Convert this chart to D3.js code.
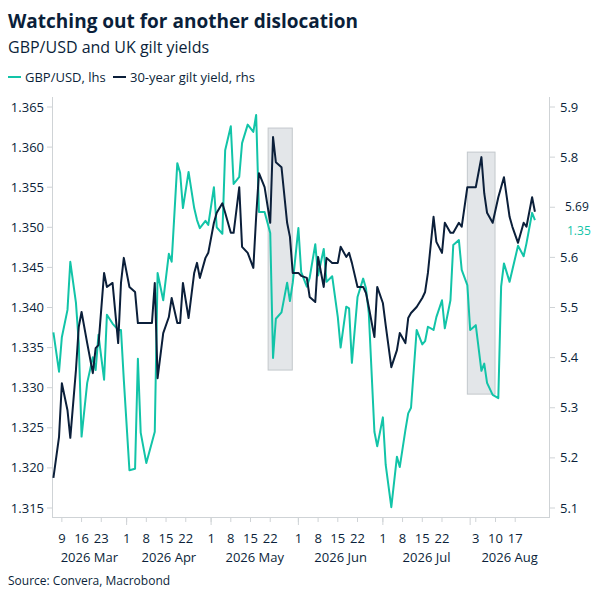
<!DOCTYPE html>
<html>
<head>
<meta charset="utf-8">
<script src="https://cdn.jsdelivr.net/npm/d3@7"></script>
<style>
  body { margin: 0; background: #fff; }
  text { font-family: "Segoe UI", "Open Sans", sans-serif; }
</style>
</head>
<body>
<script>
var dates = [
  '2026-03-06','2026-03-08','2026-03-09','2026-03-11','2026-03-12','2026-03-14','2026-03-15','2026-03-16','2026-03-18','2026-03-20',
  '2026-03-21','2026-03-22','2026-03-24','2026-03-25','2026-03-27','2026-03-29','2026-03-30','2026-03-31','2026-04-02','2026-04-04',
  '2026-04-05','2026-04-06','2026-04-08','2026-04-10','2026-04-11','2026-04-12','2026-04-14','2026-04-16','2026-04-17','2026-04-19',
  '2026-04-20','2026-04-21','2026-04-23','2026-04-25','2026-04-26','2026-04-27','2026-04-29','2026-04-30','2026-05-02','2026-05-03',
  '2026-05-05','2026-05-06','2026-05-08','2026-05-09','2026-05-11','2026-05-12','2026-05-14','2026-05-16','2026-05-17','2026-05-18',
  '2026-05-20','2026-05-22','2026-05-23','2026-05-24','2026-05-26','2026-05-28','2026-05-29','2026-05-30','2026-06-01','2026-06-02',
  '2026-06-04','2026-06-05','2026-06-07','2026-06-08','2026-06-10','2026-06-11','2026-06-13','2026-06-15','2026-06-16','2026-06-18',
  '2026-06-19','2026-06-20','2026-06-22','2026-06-24','2026-06-25','2026-06-26','2026-06-28','2026-06-29','2026-07-01','2026-07-02',
  '2026-07-04','2026-07-06','2026-07-07','2026-07-09','2026-07-10','2026-07-11','2026-07-13','2026-07-15','2026-07-16','2026-07-17',
  '2026-07-19','2026-07-20','2026-07-22','2026-07-23','2026-07-25','2026-07-26','2026-07-28','2026-07-29','2026-07-31','2026-08-01',
  '2026-08-03','2026-08-05','2026-08-06','2026-08-07','2026-08-09','2026-08-11','2026-08-12','2026-08-13','2026-08-15','2026-08-16',
  '2026-08-18','2026-08-20','2026-08-21','2026-08-23','2026-08-24'
];

// GBP/USD, left axis
var gbpusd = [
  1.3369,1.3320,1.3363,1.3397,1.3457,1.3406,1.3356,1.3239,1.3306,1.3338,
  1.3322,1.3366,1.3310,1.3391,1.3380,1.3372,1.3372,1.3310,1.3197,1.3199,
  1.3336,1.3244,1.3206,1.3232,1.3245,1.3443,1.3409,1.3467,1.3457,1.3580,
  1.3568,1.3524,1.3569,1.3524,1.3509,1.3499,1.3508,1.3503,1.3550,1.3500,
  1.3492,1.3596,1.3626,1.3554,1.3563,1.3605,1.3628,1.3619,1.3640,1.3519,
  1.3519,1.3493,1.3337,1.3386,1.3394,1.3431,1.3408,1.3431,1.3499,1.3444,
  1.3426,1.3437,1.3479,1.3440,
  1.3473,1.3432,1.3439,1.3388,1.3350,1.3401,1.3399,1.3331,1.3413,1.3436,
  1.3424,1.3393,1.3245,1.3227,1.3263,1.3204,1.3151,1.3214,1.3201,1.3247,
  1.3268,1.3275,1.3372,1.3354,1.3358,1.3376,1.3372,1.3388,1.3409,1.3374,
  1.3409,1.3478,1.3484,1.3447,1.3428,1.3372,1.3378,1.3321,1.3330,1.3306,
  1.3291,1.3287,1.3426,1.3455,1.3432,1.3447,1.3477,1.3464,1.3480,1.3518,1.3509
];

// 30-year gilt yield, right axis
var gilt30 = [
  5.160,5.242,5.349,5.295,5.240,5.375,5.461,5.491,5.429,5.369,
  5.419,5.425,5.569,5.541,5.549,5.429,5.549,5.599,5.541,5.531,
  5.469,5.469,5.469,5.469,5.549,5.359,5.449,5.481,5.519,5.469,
  5.469,5.549,5.479,5.569,5.589,5.559,5.599,5.609,5.669,5.689,
  5.708,5.689,5.649,5.649,5.740,5.621,5.609,5.579,5.681,5.768,
  5.740,5.669,5.840,5.790,5.780,5.669,5.641,5.569,5.569,5.563,
  5.559,5.521,5.511,5.601,
  5.541,5.599,5.589,5.589,5.621,5.601,5.609,5.589,5.541,5.541,
  5.529,5.501,5.441,5.541,5.509,5.465,5.381,5.415,5.449,5.429,
  5.479,5.489,5.501,5.519,5.531,5.569,5.681,5.631,5.609,5.669,
  5.649,5.649,5.669,5.661,5.740,5.740,5.740,5.800,5.728,5.689,
  5.669,5.720,5.740,5.760,5.681,5.661,5.629,5.669,5.661,5.720,5.691
];

var leftTicks = [1.315, 1.320, 1.325, 1.330, 1.335, 1.340, 1.345, 1.350, 1.355, 1.360, 1.365];
var rightTicks = [5.1, 5.2, 5.3, 5.4, 5.5, 5.6, 5.8, 5.9];
var weekTicks = ['2026-03-09','2026-03-16','2026-03-23','2026-04-01','2026-04-08','2026-04-15','2026-04-22',
  '2026-05-01','2026-05-08','2026-05-15','2026-05-22','2026-06-01','2026-06-08','2026-06-15','2026-06-22',
  '2026-07-01','2026-07-08','2026-07-15','2026-07-22','2026-08-03','2026-08-10','2026-08-17'];
var monthStarts = ['2026-04-01','2026-05-01','2026-06-01','2026-07-01','2026-08-01'];
var monthLabels = [
  { label: '2026 Mar', from: '2026-03-05T12:00', to: '2026-04-01' },
  { label: '2026 Apr', from: '2026-04-01', to: '2026-05-01' },
  { label: '2026 May', from: '2026-05-01', to: '2026-06-01' },
  { label: '2026 Jun', from: '2026-06-01', to: '2026-07-01' },
  { label: '2026 Jul', from: '2026-07-01', to: '2026-08-01' },
  { label: '2026 Aug', from: '2026-08-01', to: '2026-08-29' }
];
// shaded windows: [start, end, gilt top, gbp bottom]
var boxes = [
  ['2026-05-21T06:00', '2026-05-29T20:00', 5.858, 1.3322],
  ['2026-07-31', '2026-08-09T20:00', 5.810, 1.3292]
];

var navy = '#0b1f3a', teal = '#12c4a8', grey = '#cfd3d6';
var parse = d3.isoParse;

var svg = d3.select('body').append('svg').attr('width', 600).attr('height', 600);

var x = d3.scaleTime().domain([parse('2026-03-05T12:00'), parse('2026-08-29')]).range([52, 549]);
var yL = d3.scaleLinear().domain([1.315, 1.365]).range([508, 107]);
var yR = d3.scaleLinear().domain([5.1, 5.9]).range([508, 107]);

svg.append('text').attr('x', 8).attr('y', 28).attr('font-size', 19).attr('font-weight', 700)
  .attr('fill', navy).text('Watching out for another dislocation');
svg.append('text').attr('x', 8).attr('y', 53).attr('font-size', 16).attr('fill', navy)
  .text('GBP/USD and UK gilt yields');

// legend
svg.append('line').attr('x1', 8).attr('x2', 21).attr('y1', 77).attr('y2', 77).attr('stroke', teal).attr('stroke-width', 2);
svg.append('text').attr('x', 25).attr('y', 82).attr('font-size', 13).attr('fill', navy).text('GBP/USD, lhs');
svg.append('line').attr('x1', 113).attr('x2', 126).attr('y1', 77).attr('y2', 77).attr('stroke', navy).attr('stroke-width', 2);
svg.append('text').attr('x', 130).attr('y', 82).attr('font-size', 13).attr('fill', navy).text('30-year gilt yield, rhs');

// boxes
svg.selectAll('rect.box').data(boxes).enter().append('rect')
  .attr('x', function(d) { return x(parse(d[0])); })
  .attr('width', function(d) { return x(parse(d[1])) - x(parse(d[0])); })
  .attr('y', function(d) { return yR(d[2]); })
  .attr('height', function(d) { return yL(d[3]) - yR(d[2]); })
  .attr('fill', '#e3e6e9').attr('stroke', '#c3c8cc').attr('stroke-width', 1);

// axes
var ax = svg.append('g').attr('stroke', grey).attr('stroke-width', 1);
ax.append('line').attr('x1', 52.5).attr('x2', 52.5).attr('y1', 97).attr('y2', 518);
ax.append('line').attr('x1', 549.5).attr('x2', 549.5).attr('y1', 97).attr('y2', 518);
ax.append('line').attr('x1', 52).attr('x2', 549).attr('y1', 517.5).attr('y2', 517.5);

svg.selectAll('line.lt').data(leftTicks).enter().append('line')
  .attr('x1', 47).attr('x2', 52).attr('y1', yL).attr('y2', yL).attr('stroke', grey);
svg.selectAll('text.lt').data(leftTicks).enter().append('text')
  .attr('x', 44).attr('y', function(d) { return yL(d) + 4.5; }).attr('text-anchor', 'end')
  .attr('font-size', 13).attr('fill', navy).text(d3.format('.3f'));

svg.selectAll('line.rt').data(rightTicks).enter().append('line')
  .attr('x1', 549).attr('x2', 555).attr('y1', yR).attr('y2', yR).attr('stroke', grey);
svg.selectAll('text.rt').data(rightTicks).enter().append('text')
  .attr('x', 560).attr('y', function(d) { return yR(d) + 4.5; })
  .attr('font-size', 13).attr('fill', navy).text(d3.format('.1f'));

svg.selectAll('line.wk').data(weekTicks).enter().append('line')
  .attr('x1', function(d) { return x(parse(d)); }).attr('x2', function(d) { return x(parse(d)); })
  .attr('y1', 518).attr('y2', 522).attr('stroke', grey);
svg.selectAll('line.mo').data(monthStarts).enter().append('line')
  .attr('x1', function(d) { return x(parse(d)); }).attr('x2', function(d) { return x(parse(d)); })
  .attr('y1', 518).attr('y2', 525).attr('stroke', grey);
svg.selectAll('text.wk').data(weekTicks).enter().append('text')
  .attr('x', function(d) { return x(parse(d)); }).attr('y', 543).attr('text-anchor', 'middle')
  .attr('font-size', 13).attr('fill', navy).text(function(d) { return +d.slice(8); });
svg.selectAll('text.mo').data(monthLabels).enter().append('text')
  .attr('x', function(d) { return (x(parse(d.from)) + x(parse(d.to))) / 2; }).attr('y', 562)
  .attr('text-anchor', 'middle').attr('font-size', 13).attr('fill', navy).text(function(d) { return d.label; });

// lines
var pts = dates.map(function(d, i) { return { date: parse(d), gbp: gbpusd[i], gilt: gilt30[i] }; });
svg.append('path').datum(pts).attr('fill', 'none').attr('stroke', teal).attr('stroke-width', 2)
  .attr('stroke-linejoin', 'round')
  .attr('d', d3.line().x(function(d) { return x(d.date); }).y(function(d) { return yL(d.gbp); }));
svg.append('path').datum(pts).attr('fill', 'none').attr('stroke', navy).attr('stroke-width', 2)
  .attr('stroke-linejoin', 'round')
  .attr('d', d3.line().x(function(d) { return x(d.date); }).y(function(d) { return yR(d.gilt); }));

// last values
var last = pts[pts.length - 1];
svg.append('line').attr('x1', 549).attr('x2', 555).attr('y1', yR(5.7)).attr('y2', yR(5.7)).attr('stroke', grey);
svg.append('text').attr('x', 565).attr('y', yR(5.7) + 4).attr('font-size', 12).attr('fill', navy).text(last.gilt.toFixed(2));
svg.append('text').attr('x', 567).attr('y', 235).attr('font-size', 12).attr('fill', teal).text(last.gbp.toFixed(2));

svg.append('text').attr('x', 8).attr('y', 585).attr('font-size', 12).attr('fill', navy).text('Source: Convera, Macrobond');
</script>
</body>
</html>
